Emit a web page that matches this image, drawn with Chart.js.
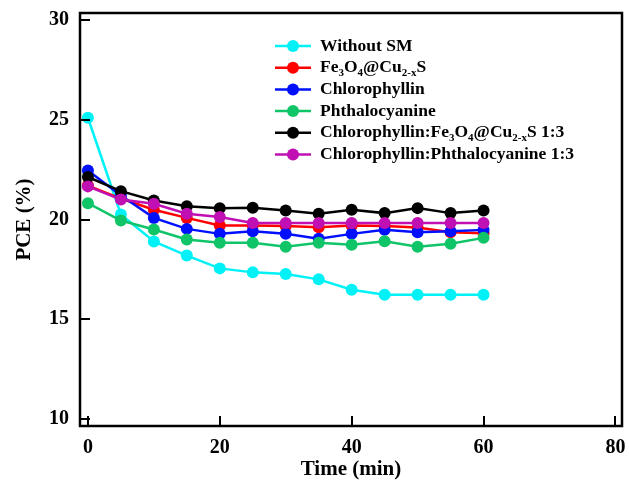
<!DOCTYPE html>
<html>
<head>
<meta charset="utf-8">
<script src="https://cdn.jsdelivr.net/npm/chart.js@4/dist/chart.umd.min.js"></script>
<style>
  html, body { margin: 0; padding: 0; background: #fff; }
  #wrap { width: 629px; height: 485px; }
</style>
</head>
<body>
<div id="wrap"><canvas id="chart"></canvas></div>
<script>
// time points (min)
const times = [0, 5, 10, 15, 20, 25, 30, 35, 40, 45, 50, 55, 60];

// PCE (%) per sample
const withoutSM = [25.1, 20.25, 18.9, 18.19, 17.55, 17.35, 17.27, 17.0, 16.48, 16.23, 16.23, 16.23, 16.23];
const fe3o4 = [21.7, 21.05, 20.49, 20.08, 19.7, 19.7, 19.68, 19.61, 19.7, 19.68, 19.6, 19.36, 19.31];
const chlorophyllin = [22.46, 21.2, 20.08, 19.53, 19.28, 19.41, 19.28, 19.03, 19.28, 19.48, 19.36, 19.41, 19.48];
const phthalocyanine = [20.82, 19.95, 19.5, 19.0, 18.83, 18.83, 18.64, 18.83, 18.74, 18.91, 18.64, 18.78, 19.08];
const chloFe = [22.13, 21.42, 20.95, 20.67, 20.57, 20.59, 20.45, 20.29, 20.49, 20.32, 20.57, 20.32, 20.45];
const chloPhth = [21.66, 21.0, 20.79, 20.29, 20.12, 19.83, 19.83, 19.83, 19.83, 19.83, 19.83, 19.83, 19.83];

// legend names, "_" marks a subscript (single char or {...})
const seriesNames = [
    'Without SM',
    'Fe_3O_4@Cu_{2-x}S',
    'Chlorophyllin',
    'Phthalocyanine',
    'Chlorophyllin:Fe_3O_4@Cu_{2-x}S 1:3',
    'Chlorophyllin:Phthalocyanine 1:3'
];
const seriesColors = ['#00F2F6', '#FF0000', '#0010FF', '#10C468', '#000000', '#C010B4'];

const xTicks = [0, 20, 40, 60, 80];
const yTicks = [10, 15, 20, 25, 30];

const FONT = '"Liberation Serif", "Times New Roman", serif';

function parseLabel(text) {
    const parts = [];
    let i = 0;
    let buf = '';
    while (i < text.length) {
        const c = text[i];
        if (c === '_') {
            if (buf) { parts.push({ t: buf, sub: false }); buf = ''; }
            if (text[i + 1] === '{') {
                const end = text.indexOf('}', i);
                parts.push({ t: text.slice(i + 2, end), sub: true });
                i = end + 1;
            } else {
                parts.push({ t: text[i + 1], sub: true });
                i += 2;
            }
        } else {
            buf += c;
            i++;
        }
    }
    if (buf) parts.push({ t: buf, sub: false });
    return parts;
}

// box frame and inward ticks, like the original plot
const framePlugin = {
    id: 'frame',
    afterDatasetsDraw(chart) {
        const { ctx, chartArea: a, scales } = chart;
        ctx.save();
        ctx.strokeStyle = '#000';
        ctx.lineWidth = 2.5;
        ctx.strokeRect(a.left, a.top, a.right - a.left, a.bottom - a.top);
        ctx.lineWidth = 2;
        ctx.beginPath();
        yTicks.forEach(v => {
            const y = Math.round(scales.y.getPixelForValue(v));
            ctx.moveTo(a.left, y);
            ctx.lineTo(a.left + 10, y);
        });
        xTicks.forEach(v => {
            const x = Math.round(scales.x.getPixelForValue(v));
            ctx.moveTo(x, a.bottom);
            ctx.lineTo(x, a.bottom - 10);
        });
        ctx.stroke();
        ctx.restore();
    }
};

const legendPlugin = {
    id: 'richLegend',
    afterDraw(chart) {
        const { ctx } = chart;
        const x0 = 275, x1 = 311, tx = 320, y0 = 46, step = 21.7;
        ctx.save();
        seriesNames.forEach((name, i) => {
            const y = y0 + i * step;
            ctx.strokeStyle = seriesColors[i];
            ctx.lineWidth = 2.5;
            ctx.beginPath();
            ctx.moveTo(x0, y);
            ctx.lineTo(x1, y);
            ctx.stroke();
            ctx.fillStyle = seriesColors[i];
            ctx.beginPath();
            ctx.arc((x0 + x1) / 2, y, 6, 0, Math.PI * 2);
            ctx.fill();

            ctx.fillStyle = '#000';
            ctx.textBaseline = 'middle';
            let x = tx;
            parseLabel(name).forEach(p => {
                ctx.font = p.sub ? 'bold 11px ' + FONT : 'bold 17.5px ' + FONT;
                ctx.fillText(p.t, x, p.sub ? y + 5 : y);
                x += ctx.measureText(p.t).width;
            });
        });
        ctx.restore();
    }
};

const datasets = [withoutSM, fe3o4, chlorophyllin, phthalocyanine, chloFe, chloPhth].map((vals, i) => ({
    label: seriesNames[i],
    data: times.map((t, j) => ({ x: t, y: vals[j] })),
    borderColor: seriesColors[i],
    backgroundColor: seriesColors[i],
    borderWidth: 2.5,
    pointRadius: 6,
    pointBorderWidth: 0,
    order: 6 - i
}));

const ctx = document.getElementById('chart').getContext('2d');
new Chart(ctx, {
    type: 'line',
    data: { datasets: datasets },
    options: {
        responsive: true,
        maintainAspectRatio: false,
        animation: false,
        layout: { padding: { top: 13, right: 7, left: 0, bottom: 0 } },
        plugins: {
            legend: { display: false },
            tooltip: { enabled: false }
        },
        scales: {
            x: {
                type: 'linear',
                min: -1.2,
                max: 81,
                afterBuildTicks: (scale) => { scale.ticks = xTicks.map(v => ({ value: v })); },
                afterFit: (scale) => {
                    scale.height = 59;
                    scale.paddingLeft = 0;
                    scale.paddingRight = 0;
                },
                grid: { display: false, drawTicks: false },
                border: { display: false },
                ticks: {
                    color: '#000',
                    padding: 10,
                    maxRotation: 0,
                    font: { family: FONT, size: 20, weight: 'bold' },
                    callback: (v) => String(v)
                },
                title: {
                    display: true,
                    text: 'Time (min)',
                    color: '#000',
                    padding: { top: 0, bottom: 3 },
                    font: { family: FONT, size: 21, weight: 'bold' }
                }
            },
            y: {
                type: 'linear',
                min: 9.65,
                max: 30.35,
                afterBuildTicks: (scale) => { scale.ticks = yTicks.map(v => ({ value: v })); },
                afterFit: (scale) => {
                    scale.width = 80;
                    scale.paddingTop = 0;
                    scale.paddingBottom = 0;
                },
                grid: { display: false, drawTicks: false },
                border: { display: false },
                ticks: {
                    color: '#000',
                    padding: 11,
                    font: { family: FONT, size: 20, weight: 'bold' },
                    callback: (v) => String(v)
                },
                title: {
                    display: true,
                    text: 'PCE (%)',
                    color: '#000',
                    padding: { top: 12, bottom: 0 },
                    font: { family: FONT, size: 21, weight: 'bold' }
                }
            }
        }
    },
    plugins: [framePlugin, legendPlugin]
});
</script>
</body>
</html>
